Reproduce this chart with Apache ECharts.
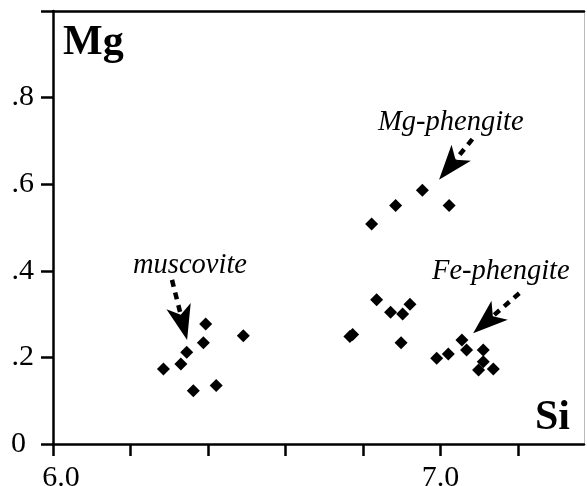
<!DOCTYPE html>
<html>
<head>
<meta charset="utf-8">
<script src="https://cdn.jsdelivr.net/npm/echarts@6/dist/echarts.min.js"></script>
<style>
html,body{margin:0;padding:0;background:#fff;}
#chart{width:587px;height:486px;}
</style>
</head>
<body>
<div id="chart"></div>
<script>
// Axis ticks and labels
const siTicks = [6.0, 6.2, 6.4, 6.6, 6.8, 7.0, 7.2];
const siLabelValues = [6.0, 7.0];
const mgTicks = [0, 0.2, 0.4, 0.6, 0.8, 1.0];
const mgLabelValues = [0, 0.2, 0.4, 0.6, 0.8];
const mgLabelText = ['0', '.2', '.4', '.6', '.8'];

// Data (Si, Mg)
const muscoviteSi = [6.285, 6.330, 6.345, 6.394, 6.388, 6.362, 6.421, 6.491];
const muscoviteMg = [0.173, 0.185, 0.212, 0.277, 0.234, 0.123, 0.135, 0.250];
const mgPhengiteSi = [6.822, 6.884, 6.953, 7.022];
const mgPhengiteMg = [0.508, 0.551, 0.586, 0.551];
const middleSi = [6.835, 6.871, 6.902, 6.921, 6.766, 6.773, 6.898];
const middleMg = [0.333, 0.304, 0.300, 0.323, 0.248, 0.253, 0.234];
const fePhengiteSi = [6.990, 7.020, 7.055, 7.067, 7.110, 7.110, 7.098, 7.136];
const fePhengiteMg = [0.198, 0.208, 0.240, 0.217, 0.217, 0.190, 0.171, 0.173];

// Annotation arrows: [startSi, startMg, tipSi, tipMg]
const arrowMuscovite = [6.307, 0.379, 6.346, 0.240];
const arrowMgPhengite = [7.082, 0.704, 6.996, 0.610];
const arrowFePhengite = [7.203, 0.348, 7.084, 0.256];

function pairs(xs, ys) { return xs.map((x, i) => [x, ys[i]]); }
const allPoints = []
  .concat(pairs(muscoviteSi, muscoviteMg))
  .concat(pairs(mgPhengiteSi, mgPhengiteMg))
  .concat(pairs(middleSi, middleMg))
  .concat(pairs(fePhengiteSi, fePhengiteMg));

const serif = '"Liberation Serif", "DejaVu Serif", serif';
const chart = echarts.init(document.getElementById('chart'), null, {renderer: 'canvas'});

function renderArrow(params, api) {
  const p1 = api.coord([api.value(0), api.value(1)]);
  const p2 = api.coord([api.value(2), api.value(3)]);
  let dx = p2[0] - p1[0], dy = p2[1] - p1[1];
  const len = Math.sqrt(dx * dx + dy * dy);
  dx /= len; dy /= len;
  const L = 35, W = 12.5, N = 26;
  const bx = p2[0] - dx * L, by = p2[1] - dy * L;
  const px = -dy, py = dx;
  const left = [bx + px * W, by + py * W];
  const right = [bx - px * W, by - py * W];
  const notch = [p2[0] - dx * N, p2[1] - dy * N];
  return {
    type: 'group',
    children: [
      {type: 'line', shape: {x1: p1[0], y1: p1[1], x2: notch[0], y2: notch[1]},
       style: {stroke: '#000', lineWidth: 4.5, lineDash: [7, 6]}},
      {type: 'polygon', shape: {points: [p2, left, notch, right]},
       style: {fill: '#000'}}
    ]
  };
}

chart.setOption({
  backgroundColor: '#fff',
  animation: false,
  grid: {left: 53, right: 3, top: 11, bottom: 42, containLabel: false, outerBoundsMode: 'none'},
  xAxis: [{
    type: 'value', min: 6.0, max: 7.37, interval: 0.2, position: 'bottom',
    splitLine: {show: false},
    axisLine: {show: true, onZero: false, lineStyle: {color: '#000', width: 2.5}},
    axisTick: {show: true, inside: false, length: 12, customValues: siTicks,
      lineStyle: {color: '#000', width: 2.5}},
    axisLabel: {show: true, customValues: siLabelValues, margin: 19,
      formatter: v => (Math.abs(v - 6.0) < 1e-6 ? '{a|6.0}' : '{b|' + v.toFixed(1) + '}'),
      rich: {
        a: {fontFamily: serif, fontSize: 30, color: '#000', padding: [0, 0, 0, 16]},
        b: {fontFamily: serif, fontSize: 30, color: '#000'}
      }}
  }, {
    type: 'value', min: 6.0, max: 7.37, position: 'top',
    splitLine: {show: false},
    axisLine: {show: true, onZero: false, lineStyle: {color: '#000', width: 2.5}},
    axisTick: {show: false}, axisLabel: {show: false}
  }],
  yAxis: [{
    type: 'value', min: 0, max: 1.0, interval: 0.2, position: 'left',
    splitLine: {show: false},
    axisLine: {show: true, onZero: false, lineStyle: {color: '#000', width: 2.5}},
    axisTick: {show: true, inside: false, length: 12, customValues: mgTicks,
      lineStyle: {color: '#000', width: 2.5}},
    axisLabel: {show: true, customValues: mgLabelValues, margin: 19,
      formatter: v => {
        const i = mgLabelValues.findIndex(m => Math.abs(m - v) < 1e-6);
        const t = i >= 0 ? mgLabelText[i] : '';
        return v === 0 ? '{z|' + t + '}' : '{n|' + t + '}';
      },
      rich: {
        n: {fontFamily: serif, fontSize: 30, color: '#000'},
        z: {fontFamily: serif, fontSize: 30, color: '#000', padding: [0, 8, 0, 0]}
      }}
  }, {
    type: 'value', min: 0, max: 1.0, position: 'right',
    splitLine: {show: false},
    axisLine: {show: true, onZero: false, lineStyle: {color: '#bbb', width: 1}},
    axisTick: {show: false}, axisLabel: {show: false}
  }],
  series: [{
    type: 'scatter',
    data: allPoints,
    symbol: 'diamond',
    symbolSize: 13,
    itemStyle: {color: '#000', opacity: 1},
    silent: true
  }, {
    type: 'custom',
    renderItem: renderArrow,
    encode: {x: [0, 2], y: [1, 3]},
    data: [arrowMuscovite, arrowMgPhengite, arrowFePhengite],
    silent: true
  }],
  graphic: [
    {type: 'text', left: 63, top: 22, style: {text: 'Mg', font: 'bold 42px ' + serif, fill: '#000'}},
    {type: 'text', right: 17, top: 397, style: {text: 'Si', font: 'bold 42px ' + serif, fill: '#000'}},
    {type: 'text', left: 133, top: 251, style: {text: 'muscovite', font: 'italic 28.5px ' + serif, fill: '#000'}},
    {type: 'text', left: 378, top: 108, style: {text: 'Mg-phengite', font: 'italic 28.5px ' + serif, fill: '#000'}},
    {type: 'text', left: 432, top: 257, style: {text: 'Fe-phengite', font: 'italic 28.5px ' + serif, fill: '#000'}}
  ]
});
</script>
</body>
</html>
